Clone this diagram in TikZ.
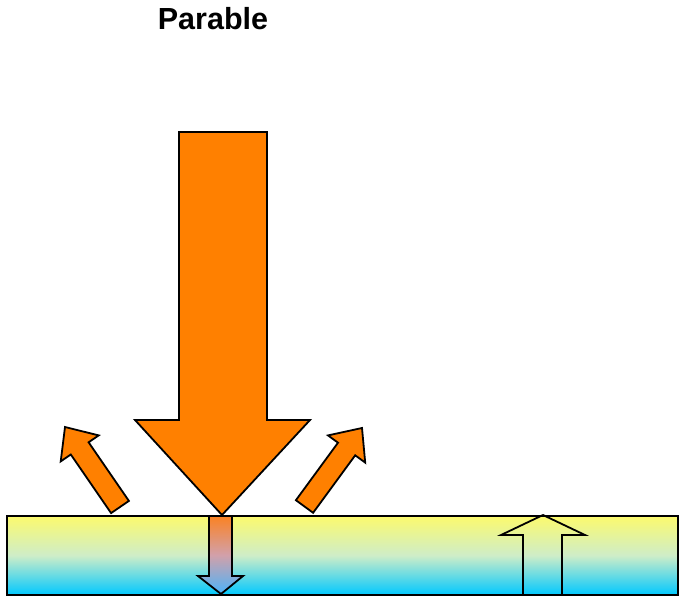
\documentclass[tikz,border=0pt]{standalone}
\usepackage{fontspec}
\setmainfont{Liberation Sans}
\definecolor{beam}{RGB}{255,128,0}
\definecolor{slabtop}{RGB}{252,250,110}
\definecolor{slabmid}{RGB}{206,237,200}
\definecolor{slabbottom}{RGB}{0,200,255}
\definecolor{passtop}{RGB}{250,130,35}
\definecolor{passmid}{RGB}{210,160,170}
\definecolor{passbottom}{RGB}{75,180,250}
\begin{document}
\begin{tikzpicture}[x=1pt,y=-1pt,line join=miter,
    outline/.style={draw=black,line width=1.8pt},
    ray/.style={outline,fill=beam}]
  \useasboundingbox (0,0) rectangle (679,596);
  % title
  \node[font=\bfseries\fontsize{30.5}{36}\selectfont] (title) at (213,19) {Parable};
  % slab
  \shade[top color=slabtop,bottom color=slabbottom,middle color=slabmid] (7,516) rectangle (678,595);
  \draw[outline] (7,516) rectangle (678,595);
  % incoming beam
  \draw[ray] (179,132)--(267,132)--(267,420)--(310,420)--(222,515)--(135,420)--(179,420)--cycle;
  % reflected, left
  \draw[ray] (111.1,513.1)--(128.9,500.9)--(88.6,442.3)--(98.7,435.4)--(65,427)
    --(60.7,461.4)--(70.8,454.5)--cycle;
  % reflected, right
  \draw[ray] (295.9,500.2)--(338,442.7)--(328,435.4)--(362,428)--(365.2,462.6)
    --(355.2,455.3)--(313.1,512.8)--cycle;
  % transmitted
  \shade[top color=passtop,bottom color=passbottom,middle color=passmid] (209,516)--(232,516)
    --(232,576)--(243,576)--(221,594)--(198,576)--(209,576)--cycle;
  \draw[outline] (209,516)--(232,516)--(232,576)--(243,576)--(221,594)--(198,576)--(209,576)--cycle;
  % emitted
  \draw[outline] (523,595)--(523,535)--(501,535)--(543,515)--(585,535)--(562,535)--(562,595);
\end{tikzpicture}
\end{document}
